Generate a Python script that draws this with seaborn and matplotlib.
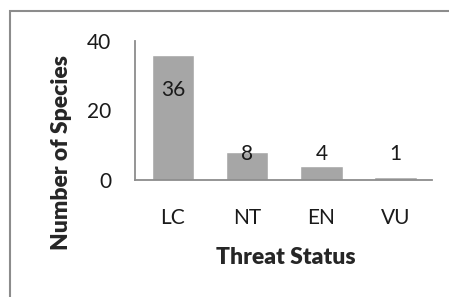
import matplotlib
matplotlib.use("Agg")
import matplotlib.pyplot as plt
import matplotlib.patches as patches
import seaborn as sns
import pandas as pd

# data
status = ["LC", "NT", "EN", "VU"]
n_species = [36, 8, 4, 1]
yticks = [0, 20, 40]

df = pd.DataFrame({"Threat Status": status, "Number of Species": n_species})

sns.set_style("white")
plt.rcParams["font.family"] = ["Lato", "DejaVu Sans"]

fig = plt.figure(figsize=(4.49, 2.97), dpi=100)
ax = fig.add_axes([135 / 449, 1 - 180 / 297, 297 / 449, 139 / 297])

sns.barplot(data=df, x="Threat Status", y="Number of Species", color="#a6a6a6",
            saturation=1, width=0.57, ax=ax)

# value labels (Excel style: big one inside, small ones level above the bars)
for i, v in enumerate(n_species):
    ty = v - 10 if v > 20 else 7.5
    ax.text(i, ty, str(v), ha="center", va="center", fontsize=15, color="#1a1a1a")

ax.set_ylim(0, 40)
ax.set_xlim(-0.51, 3.49)
ax.set_yticks(yticks)
ax.tick_params(axis="y", length=0, pad=17, labelsize=15, labelcolor="#1a1a1a")
ax.tick_params(axis="x", length=0, pad=20, labelsize=15, labelcolor="#1a1a1a")

for s in ["top", "right"]:
    ax.spines[s].set_visible(False)
for s in ["left", "bottom"]:
    ax.spines[s].set_color("#8c8c8c")
    ax.spines[s].set_linewidth(1.3)

ax.set_xlabel("Threat Status", fontsize=16.5, fontweight="heavy")
ax.set_ylabel("Number of Species", fontsize=16.5, fontweight="heavy")
ax.xaxis.set_label_coords(0.507, -0.48)
ax.yaxis.set_label_coords(-0.212, 0.2)

# outer frame of the chart box
fig.patches.append(patches.Rectangle((10 / 449, -0.1), 1.2, 1 - 11 / 297 + 0.1,
                                     transform=fig.transFigure, fill=False,
                                     edgecolor="#8c8c8c", linewidth=1.5))

fig.savefig("out.png", dpi=100)
